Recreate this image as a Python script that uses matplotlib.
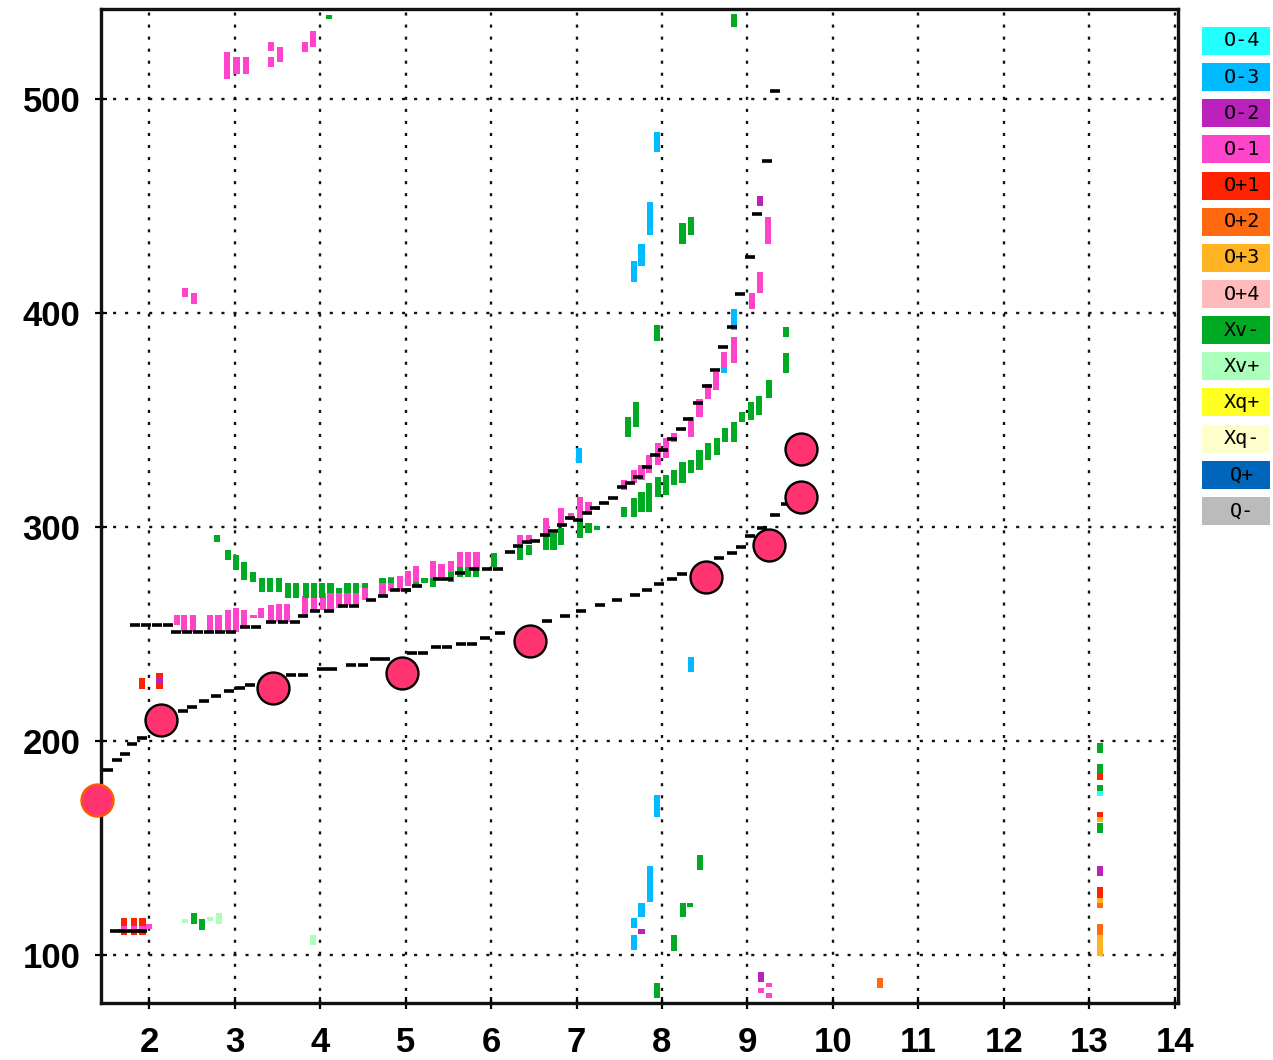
import matplotlib
matplotlib.use("Agg")
import matplotlib.pyplot as plt
from matplotlib.patches import Rectangle

# ---------------- data (x, low, high) per class ----------------
o1_bars = [(2.32,254.4,259.1),(2.41,251.2,259.1),(2.51,251.2,259.1),(2.71,251.2,259.1),(2.81,251.2,259.1),
           (2.92,251.2,261.4),(3.01,251.2,262.2),(3.11,253.6,261.4),(3.22,257.6,259.1),(3.31,257.6,262.3),
           (3.42,255.2,263.7),(3.52,255.9,264.2),(3.61,255.9,264.2),(3.82,259.1,267.6),(3.93,260.6,269.9),
           (4.03,261.4,269.2),(4.12,261.4,269.2),(4.22,262.1,269.2),(4.32,263.7,269.2),(4.42,263.7,269.2),
           (4.52,266.1,271.6),(4.73,268.0,275.0),(4.83,270.2,276.5),(4.93,270.2,277.3),(5.03,272.3,279.6),
           (5.12,274.6,281.9),(5.32,275.4,284.3),(5.42,276.5,282.7),(5.53,278.5,284.3),(5.64,279.6,288.6),
           (5.73,279.6,288.6),(5.83,279.6,288.6),(6.34,292.3,296.5),(6.44,292.3,296.5),(6.64,295.7,304.3),
           (6.82,300.2,309.1),(6.94,303.5,306.8),(7.04,304.4,314.3),(7.14,307.2,311.9),(7.24,308.0,310.0),
           (7.56,317.5,322.2),(7.67,320.8,326.9),(7.76,322.2,329.2),(7.85,325.5,333.9),(7.95,329.2,339.5),
           (8.05,332.5,341.9),(8.14,340.0,344.0),(8.34,342.3,351.7),(8.44,351.7,359.7),(8.54,359.7,366.7),
           (8.63,364.3,372.7),(8.73,372.7,382.1),(8.84,376.9,389.1),(9.05,401.8,409.7),(9.15,409.7,419.5),
           (9.24,432.2,444.8),(2.91,509.4,522.0),(3.02,511.7,519.6),(3.13,511.7,519.6),(3.42,522.5,526.7),
           (3.42,515.0,519.6),(3.53,517.3,524.3),(3.82,522.0,526.7),(3.92,524.3,531.8),(2.42,407.4,412.0),
           (2.52,404.1,409.7),(2.00,112.2,114.5),(1.70,111.7,113.6),(1.82,111.7,113.6),(1.92,111.7,113.6),
           (9.25,85.0,86.9),(9.16,82.2,84.6),(9.25,79.9,82.2)]

xvm_bars = [(2.79,293.2,296.5),(2.92,284.8,289.5),(3.01,280.1,287.1),(3.11,275.4,283.9),(3.21,274.5,279.2),
            (3.32,269.8,276.4),(3.41,269.8,276.4),(3.52,269.8,276.4),(3.62,267.0,274.0),(3.72,267.0,274.0),
            (3.83,267.0,274.0),(3.93,267.0,274.0),(4.02,267.0,274.0),(4.12,269.4,274.0),(4.22,269.4,271.7),
            (4.32,269.4,274.0),(4.42,269.4,274.0),(4.52,271.7,274.0),(4.73,274.0,276.4),(4.83,274.0,276.4),
            (5.03,269.8,271.7),(5.12,272.2,274.5),(5.22,274.0,276.4),(5.32,272.2,276.4),(5.53,274.5,279.2),
            (5.64,276.8,281.5),(5.73,276.8,281.5),(5.82,276.8,281.5),(6.03,281.5,288.1),
            (6.34,284.8,290.9),(6.44,287.1,291.8),(6.64,289.5,296.5),(6.73,289.5,297.4),(6.82,291.8,299.8),
            (7.04,295.1,303.5),(7.14,297.4,302.1),(7.24,298.5,300.5),(7.56,304.9,309.6),(7.67,304.9,313.8),
            (7.76,307.2,316.6),(7.85,307.2,320.8),(7.95,314.3,323.6),(8.05,315.2,324.5),(8.14,319.9,326.9),
            (8.24,320.8,330.6),(8.34,325.5,331.6),(8.44,326.9,336.3),(8.54,331.6,339.5),(8.64,333.9,341.9),
            (8.74,340.0,346.5),(8.84,340.0,349.4),(8.94,349.4,354.0),(9.04,350.3,358.7),(9.14,352.6,361.1),
            (9.25,360.6,369.0),(9.45,372.3,381.6),(9.45,389.1,393.8),
            (7.60,342.3,351.7),(7.70,347.0,358.7),(8.24,432.2,442.0),(8.34,436.8,444.8),(7.94,386.8,394.3),
            (4.10,537.4,539.3),(8.84,534.0,539.8),
            (8.45,139.8,146.8),(8.25,117.8,124.3),(8.33,122.5,124.3),(8.14,101.9,109.4),(7.94,79.9,86.9),
            (2.52,114.5,119.6),(2.62,111.7,116.8),
            (13.13,194.4,199.1),(13.13,184.6,189.3),(13.13,176.7,179.5),(13.13,157.0,161.7)]

xvp_bars = [(2.42,115.0,116.8),(2.71,115.9,117.8),(2.82,114.5,119.6),(3.92,104.7,109.4)]

o3_bars = [(7.94,475.2,484.6),(7.86,436.8,451.8),(7.76,421.9,432.2),(7.67,414.4,424.2),(7.03,330.2,337.2),
           (8.34,232.4,239.4),(8.84,392.4,401.8),(8.73,372.0,375.0),(7.94,164.6,174.9),(7.86,124.8,141.6),
           (7.76,117.8,124.3),(7.67,112.6,117.3),(7.67,102.3,109.4)]

o4_bars = [(13.13,174.4,176.7)]

o2_bars = [(9.15,450.0,454.9),(7.76,109.8,112.2),(9.16,87.4,92.0),(13.13,136.7,141.8),(2.12,227.3,229.6)]

op1_bars = [(1.70,109.4,117.3),(1.82,109.4,117.3),(1.92,109.4,117.3),(1.91,224.4,229.6),(2.12,224.4,231.9),
            (13.13,181.8,184.6),(13.13,164.5,166.9),(13.13,126.6,131.8)]

op2_bars = [(10.55,84.6,89.2),(13.13,122.0,124.3),(13.13,109.3,114.5)]

op3_bars = [(13.13,162.2,164.5),(13.13,124.3,126.6),(13.13,99.5,109.3)]

# black dashes
lower_dash_x = [1.52,1.62,1.71,1.80,1.91,2.39,2.50,2.64,2.78,2.93,3.06,3.18,3.66,3.80,4.02,4.14,4.36,4.50,
                4.64,4.76,5.07,5.20,5.36,5.48,5.65,5.78,5.93,6.10,6.66,6.86,7.05,7.28,7.47,7.68,7.83,7.97,
                8.12,8.24,8.67,8.82,8.92,9.03,9.17,9.32,9.45]
lower_dash_y = [186.4,191.1,193.8,198.5,201.3,213.9,216.0,218.7,221.0,223.2,224.6,226.0,231.1,231.1,233.5,
                233.5,235.8,235.8,238.6,238.6,241.0,241.0,243.8,243.8,245.6,245.6,248.4,250.7,256.1,258.7,
                261.0,263.4,266.1,268.5,270.8,273.6,275.9,278.2,285.8,288.1,290.9,296.0,299.8,305.8,311.0]
upper_dash_x = [1.83,1.96,2.09,2.22,2.31,2.44,2.57,2.70,2.83,2.96,3.12,3.25,3.43,3.57,3.70,3.80,3.94,4.10,
                4.27,4.40,4.60,4.73,4.87,5.00,5.13,5.38,5.50,5.64,5.80,5.95,6.08,6.22,6.31,6.42,6.51,6.63,
                6.72,6.83,6.92,7.02,7.12,7.22,7.32,7.43,7.53,7.63,7.72,7.83,7.92,8.01,8.12,8.22,8.31,8.42,
                8.53,8.62,8.71,8.82,8.91,9.03,9.11,9.23,9.32]
upper_dash_y = [254.2,254.2,254.2,254.2,250.9,250.9,250.9,250.9,250.9,250.9,253.2,253.2,255.9,255.9,255.9,
                258.7,261.0,261.0,263.3,263.3,266.0,268.0,270.7,270.7,272.7,275.8,275.8,278.4,280.5,280.5,
                280.5,288.3,291.3,293.2,293.7,296.5,298.4,301.2,304.4,303.5,306.8,309.1,311.5,313.8,318.9,
                320.8,323.6,328.3,333.9,336.3,341.4,346.1,350.8,358.2,366.2,373.7,384.0,393.8,408.8,426.5,
                446.2,471.0,503.7]
base_dash_x = [1.60,1.70,1.82,1.92]
base_dash_y = [111.4,111.4,111.4,111.4]

# circles
circ_x = [2.137,3.448,4.957,6.455,8.515,9.253,9.627,9.627]
circ_y = [209.7,224.6,231.6,247.0,276.9,291.8,314.2,336.6]
edge_circ_x = [1.388]
edge_circ_y = [172.3]

x_ticks = [2,3,4,5,6,7,8,9,10,11,12,13,14]
y_ticks = [100,200,300,400,500]

legend_labels = ["O-4","O-3","O-2","O-1","O+1","O+2","O+3","O+4","Xv-","Xv+","Xq+","Xq-","Q+","Q-"]
legend_colors = ["#22FFFF","#00BBFF","#BB22BB","#FF44CC","#FF2200","#FF6A11","#FFB322","#FFBBBB",
                 "#00AA22","#AAFFBB","#FFFF22","#FFFFCC","#0066BB","#BBBBBB"]
col = dict(zip(legend_labels, legend_colors))

# ---------------- figure ----------------
fig = plt.figure(figsize=(12.73, 10.60), dpi=100)
ax = fig.add_axes([0.0791, 0.05406, 0.8463, 0.93717])
ax.set_xlim(1.431, 14.04)
ax.set_ylim(77.7, 542.1)

def draw(bars, color, z):
    xs = [b[0] for b in bars]
    lo = [b[1] for b in bars]
    h = [b[2] - b[1] for b in bars]
    ax.bar(xs, h, bottom=lo, width=0.072, color=color, edgecolor='none', linewidth=0, zorder=z)

draw(op1_bars, col["O+1"], 2)
draw(op2_bars, col["O+2"], 2)
draw(op3_bars, col["O+3"], 2)
draw(o1_bars, col["O-1"], 3)
draw(o2_bars, col["O-2"], 4)
draw(o3_bars, col["O-3"], 4)
draw(o4_bars, col["O-4"], 4)
draw(xvp_bars, col["Xv+"], 4)
draw(xvm_bars, col["Xv-"], 4)

dash_kw = dict(linestyle='none', marker='_', markersize=7.0, markeredgewidth=2.6, color='black', zorder=6)
ax.plot(lower_dash_x, lower_dash_y, **dash_kw)
ax.plot(upper_dash_x, upper_dash_y, **dash_kw)
ax.plot(base_dash_x, base_dash_y, **dash_kw)

ax.plot(circ_x, circ_y, linestyle='none', marker='o', markersize=23, markerfacecolor='#FF3370',
        markeredgecolor='black', markeredgewidth=1.7, zorder=10)
ax.plot(edge_circ_x, edge_circ_y, linestyle='none', marker='o', markersize=23, markerfacecolor='#FF3370',
        markeredgecolor='#FF5A00', markeredgewidth=1.7, zorder=10, clip_on=False)

ax.set_xticks(x_ticks)
ax.set_yticks(y_ticks)
ax.set_axisbelow(True)
ax.grid(True, color='#111111', linewidth=1.7, linestyle=(0, (1.3, 3.8)))
for s in ax.spines.values():
    s.set_linewidth(2.4)
    s.set_color('#111111')
tick_font = ['Liberation Sans', 'DejaVu Sans']
ax.tick_params(axis='both', direction='inout', length=9, width=1.6, colors='black')
ax.tick_params(axis='x', pad=12)
ax.tick_params(axis='y', pad=10)
for lab in ax.get_xticklabels() + ax.get_yticklabels():
    lab.set_fontfamily(tick_font)
    lab.set_fontweight('bold')
    lab.set_fontsize(25)

# ---------------- legend ----------------
W, H = 1273.0, 1060.0
row = 36.15
top = 27.0
lax = fig.add_axes([1202 / W, 1 - (top + 14 * row) / H, 68 / W, 14 * row / H])
lax.set_xlim(0, 1)
lax.set_ylim(14, 0)
lax.axis('off')
for i, (lab, c) in enumerate(zip(legend_labels, legend_colors)):
    lax.add_patch(Rectangle((0, i), 1, 28 / row, facecolor=c, edgecolor='none'))
    lax.text(0.59, i + 14 / row, lab, ha='center', va='center', fontsize=14.5,
             family=['DejaVu Sans Mono', 'DejaVu Sans'], color='black')

fig.savefig('out.png', dpi=100)
